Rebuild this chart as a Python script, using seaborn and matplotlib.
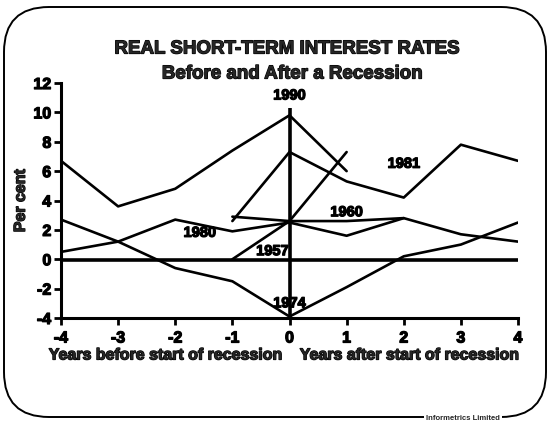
import matplotlib
matplotlib.use("Agg")
import matplotlib.pyplot as plt
import matplotlib.patheffects as pe
from matplotlib.patches import FancyBboxPatch
import pandas as pd
import seaborn as sns

# values (per cent, by year relative to recession start)
years_1990 = [-4, -3, -2, -1, 0, 1]
rates_1990 = [6.7, 3.6, 4.8, 7.4, 9.8, 6.0]

years_1981 = [-1, 0, 1, 2, 3, 4]
rates_1981 = [2.6, 7.3, 5.3, 4.2, 7.8, 6.7]

years_1960 = [-1, 0, 1, 2]
rates_1960 = [2.9, 2.6, 2.6, 2.8]

years_1980 = [-4, -3, -2, -1, 0, 1, 2, 3, 4]
rates_1980 = [0.5, 1.2, 2.7, 1.9, 2.5, 1.6, 2.8, 1.7, 1.2]

years_1957 = [-1, 0, 1]
rates_1957 = [0.0, 2.6, 7.3]

years_1974 = [-4, -3, -2, -1, 0, 1, 2, 3, 4]
rates_1974 = [2.7, 1.2, -0.6, -1.5, -3.9, -1.9, 0.2, 1.0, 2.5]

series = {
    "1990": (years_1990, rates_1990),
    "1981": (years_1981, rates_1981),
    "1960": (years_1960, rates_1960),
    "1980": (years_1980, rates_1980),
    "1957": (years_1957, rates_1957),
    "1974": (years_1974, rates_1974),
}

# label positions for the series names
label_text = ["1990", "1981", "1960", "1980", "1957", "1974"]
label_x = [0.0, 2.0, 1.0, -1.57, -0.3, 0.0]
label_y = [11.15, 6.5, 3.2, 1.8, 0.55, -3.0]

x_ticks = [-4, -3, -2, -1, 0, 1, 2, 3, 4]
y_ticks = [-4, -2, 0, 2, 4, 6, 8, 10, 12]

rows = []
for name, (xs, ys) in series.items():
    for x, y in zip(xs, ys):
        rows.append({"recession": name, "year": x, "rate": y})
df = pd.DataFrame(rows)

sns.set_theme(style="ticks")
plt.rcParams["font.family"] = ["Liberation Sans", "DejaVu Sans"]
plt.rcParams["font.weight"] = "bold"

# the scanned lettering is heavier than a normal bold, so fatten it a bit
heavy = [pe.withStroke(linewidth=0.9, foreground="black")]

fig = plt.figure(figsize=(5.49, 4.24), dpi=100)
ax = fig.add_axes([61 / 549, 1 - 318 / 424, (518 - 61) / 549, (318 - 83) / 424])

sns.lineplot(data=df, x="year", y="rate", hue="recession",
             palette={k: "black" for k in series}, linewidth=1.9,
             legend=False, ax=ax, sort=False, estimator=None)

ax.axhline(-0.08, color="black", linewidth=2.6, zorder=1)
ax.vlines(0, -4, 10.3, color="black", linewidth=2.6)

for t, x, y in zip(label_text, label_x, label_y):
    ax.text(x, y, t, ha="center", va="center", fontsize=10.5,
            fontweight="bold", color="black", path_effects=heavy)

ax.set_xlim(-4, 4)
ax.set_ylim(-4, 12)
ax.set_xticks(x_ticks)
ax.set_yticks(y_ticks)
ax.set_xticklabels([str(v) for v in x_ticks], fontsize=11.5, fontweight="bold",
                   path_effects=heavy)
ax.set_yticklabels([str(v) for v in y_ticks], fontsize=11.5, fontweight="bold",
                   path_effects=heavy)
ax.tick_params(axis="x", direction="out", length=5, width=2, colors="black", pad=4)
ax.tick_params(axis="y", direction="out", length=5, width=2, colors="black", pad=2)
for side in ["top", "right"]:
    ax.spines[side].set_visible(False)
for side in ["left", "bottom"]:
    ax.spines[side].set_linewidth(2.2)
    ax.spines[side].set_color("black")

ax.set_xlabel("")
ax.set_ylabel("Per cent", fontsize=11.5, fontweight="bold", labelpad=4,
              path_effects=heavy)

fig.text(166 / 549, 1 - 355 / 424, "Years before start of recession",
         ha="center", va="center", fontsize=11.5, fontweight="bold",
         path_effects=heavy)
fig.text(410 / 549, 1 - 355 / 424, "Years after start of recession",
         ha="center", va="center", fontsize=11.5, fontweight="bold",
         path_effects=heavy)

fig.text(287 / 549, 1 - 49 / 424, "REAL SHORT-TERM INTEREST RATES",
         ha="center", va="center", fontsize=13.5, fontweight="bold",
         path_effects=heavy)
fig.text(292 / 549, 1 - 74 / 424, "Before and After a Recession",
         ha="center", va="center", fontsize=13.5, fontweight="bold",
         path_effects=heavy)

border = FancyBboxPatch((0.04, 0.07), 5.42, 4.10,
                        boxstyle="round,pad=0,rounding_size=0.45",
                        transform=fig.dpi_scale_trans, fill=False,
                        edgecolor="black", linewidth=1.4)
fig.patches.append(border)

fig.text(463 / 549, 1 - 418 / 424, "Informetrics Limited", ha="center",
         va="center", fontsize=5.5, fontweight="bold",
         bbox=dict(facecolor="white", edgecolor="none", pad=1.5))

fig.savefig("out.png", dpi=100)
